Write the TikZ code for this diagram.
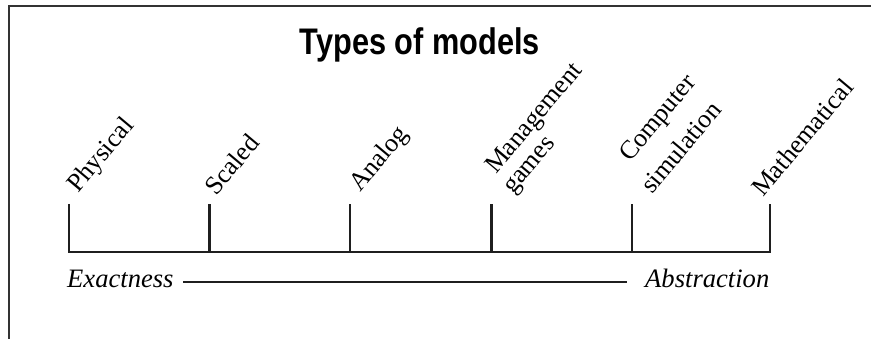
\documentclass[tikz,border=0pt]{standalone}
\usepackage{fontspec}
\setmainfont{Liberation Serif}
\newfontfamily\titlefont[FakeStretch=0.83]{Liberation Sans}
\begin{document}
\begin{tikzpicture}[x=1pt,y=-1pt,
  lab/.style={font=\fontsize{26}{31}\selectfont, inner sep=0pt, rotate=50, anchor=base west},
  endlab/.style={font=\fontsize{26.6}{31}\selectfont\itshape, inner sep=0pt, anchor=base west},
  axis/.style={line width=2.5pt, draw=black!88},
  frame/.style={line width=1.3pt, draw=black!80}]
\useasboundingbox (0,0) rectangle (871,339);
% frame
\coordinate (fa) at (9,339);
\coordinate (fb) at (9,6);
\coordinate (fc) at (871,6);
\draw[frame] (fa) -- (fb) -- (fc);
% title
\node[font=\titlefont\bfseries\fontsize{37}{40}\selectfont, inner sep=0pt, anchor=base] (title) at (420,55) {Types of models};
% axis
\foreach \n/\x in {1/69,2/209.5,3/350,4/491.5,5/632,6/770}{
  \coordinate (t\n) at (\x,252);
  \coordinate (u\n) at (\x,204);
}
\draw[axis] (u1) -- (t1) -- (t6) -- (u6);
\foreach \n in {2,3,4,5}{ \draw[axis] (t\n) -- (u\n); }
% labels
\node[lab] (phys) at (78,194) {Physical};
\node[lab] (scal) at (216,197) {Scaled};
\node[lab] (anal) at (360,193) {Analog};
\node[lab] (mana) at (496,175) {Management};
\node[lab] (game) at (513,195) {games};
\node[lab] (comp) at (630,163) {Computer};
\node[lab] (simu) at (652,195) {simulation};
\node[lab] (math) at (763,198) {Mathematical};
% exactness - abstraction
\node[endlab] (ex) at (67,288) {Exactness};
\node[endlab] (ab) at (645,288) {Abstraction};
\coordinate (la) at (183,282);
\coordinate (lb) at (627,282);
\draw[axis] (la) -- (lb);
\end{tikzpicture}
\end{document}
